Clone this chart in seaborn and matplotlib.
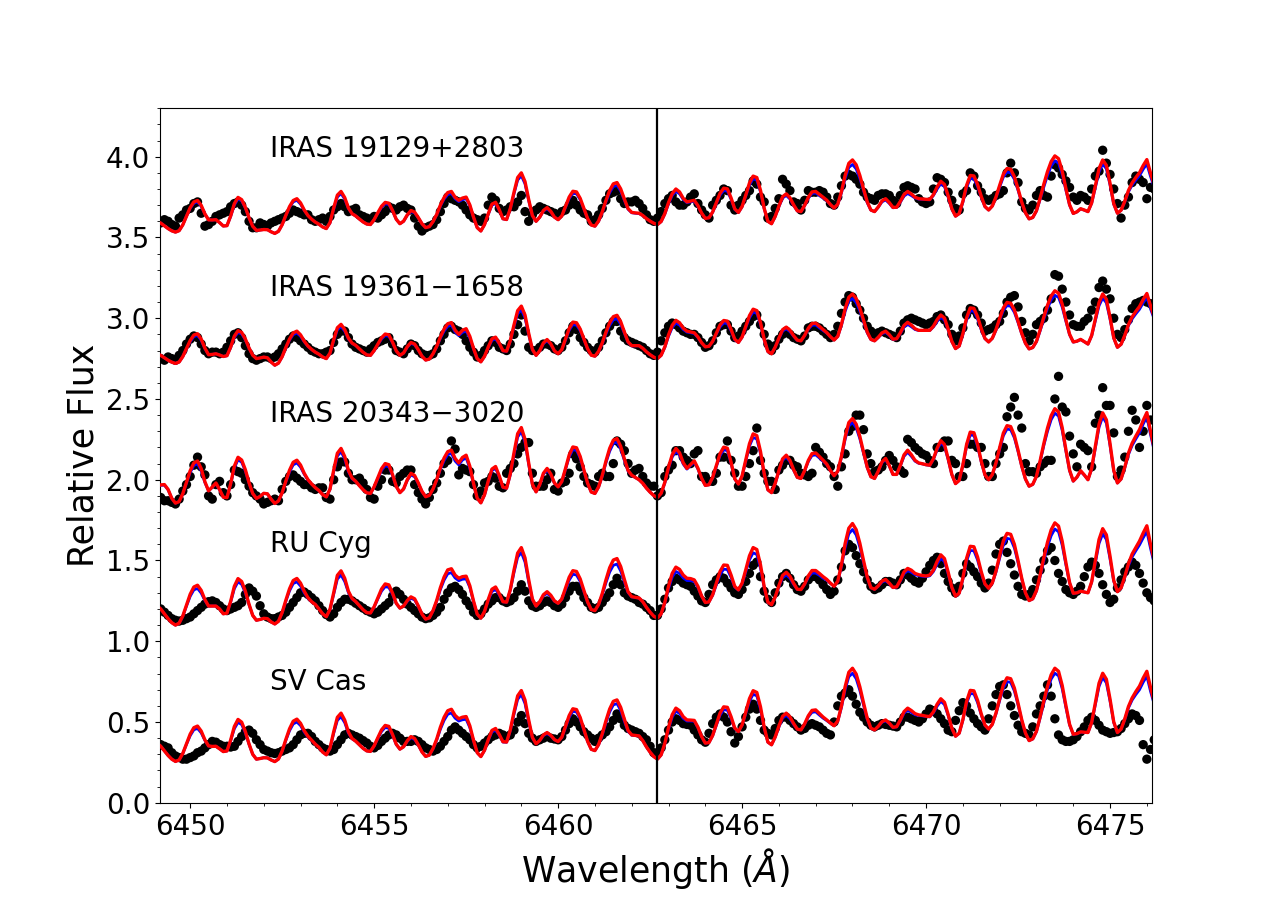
"""
Observed vs synthetic spectra near 6462 A for five stars
"""

import numpy as np
import pandas as pd
import matplotlib
matplotlib.use("Agg")
import matplotlib.pyplot as plt
from matplotlib.ticker import MultipleLocator, AutoMinorLocator
import seaborn as sns

stars = ["IRAS 19129+2803", "IRAS 19361\u22121658", "IRAS 20343\u22123020", "RU Cyg", "SV Cas"]
label_y = [4.0, 3.14, 2.36, 1.55, 0.70]
line_center = 6462.68

# common wavelength sampling, 0.1 A from 6449.1 to 6476.2
wave = np.round(np.arange(6449.1, 6476.25, 0.1), 1)

# red synthetic spectra (one row per Angstrom)
red_19129 = [
    3.60, 3.589, 3.572, 3.555, 3.541, 3.533, 3.542, 3.578, 3.632, 3.685,
    3.72, 3.729, 3.699, 3.646, 3.609, 3.608, 3.61, 3.592, 3.571, 3.573,
    3.633, 3.709, 3.748, 3.734, 3.686, 3.622, 3.569, 3.544, 3.546, 3.549,
    3.548, 3.535, 3.525, 3.538, 3.579, 3.637, 3.691, 3.729, 3.74, 3.714,
    3.67, 3.636, 3.613, 3.595, 3.582, 3.565, 3.555, 3.592, 3.682, 3.762,
    3.785, 3.747, 3.683, 3.647, 3.633, 3.614, 3.596, 3.583, 3.58, 3.611,
    3.653, 3.693, 3.717, 3.712, 3.667, 3.613, 3.585, 3.601, 3.64, 3.667,
    3.657, 3.623, 3.585, 3.561, 3.567, 3.598, 3.643, 3.70, 3.747, 3.778,
    3.785, 3.749, 3.73, 3.744, 3.75, 3.702, 3.626, 3.561, 3.54, 3.58,
    3.646, 3.706, 3.718, 3.672, 3.616, 3.611, 3.679, 3.779, 3.871, 3.90,
    3.846, 3.735, 3.636, 3.60, 3.626, 3.667, 3.685, 3.662, 3.626, 3.61,
    3.633, 3.691, 3.75, 3.786, 3.782, 3.742, 3.68, 3.618, 3.577, 3.57,
    3.602, 3.659, 3.729, 3.791, 3.832, 3.84, 3.801, 3.738, 3.679, 3.655,
    3.652, 3.65, 3.636, 3.617, 3.601, 3.588, 3.58, 3.599, 3.648, 3.716,
    3.771, 3.80, 3.782, 3.742, 3.72, 3.725, 3.73, 3.697, 3.651, 3.618,
    3.622, 3.658, 3.716, 3.773, 3.805, 3.801, 3.745, 3.677, 3.655, 3.692,
    3.763, 3.837, 3.88, 3.871, 3.792, 3.681, 3.60, 3.585, 3.631, 3.694,
    3.752, 3.77, 3.746, 3.702, 3.665, 3.66, 3.699, 3.749, 3.782, 3.785,
    3.767, 3.749, 3.731, 3.704, 3.682, 3.706, 3.784, 3.884, 3.959, 3.98,
    3.95, 3.884, 3.801, 3.721, 3.67, 3.66, 3.689, 3.726, 3.74, 3.716,
    3.686, 3.687, 3.723, 3.766, 3.785, 3.769, 3.749, 3.74, 3.738, 3.736,
    3.735, 3.765, 3.813, 3.848, 3.828, 3.758, 3.678, 3.632, 3.648, 3.724,
    3.822, 3.884, 3.881, 3.828, 3.754, 3.692, 3.67, 3.695, 3.751, 3.823,
    3.892, 3.927, 3.922, 3.876, 3.801, 3.719, 3.653, 3.615, 3.624, 3.666,
    3.744, 3.83, 3.908, 3.97, 4.005, 3.988, 3.911, 3.803, 3.703, 3.649,
    3.659, 3.678, 3.67, 3.66, 3.714, 3.82, 3.926, 3.98, 3.947, 3.835,
    3.709, 3.65, 3.669, 3.724, 3.791, 3.838, 3.871, 3.901, 3.945, 3.982,
    3.899, 3.824,
]
red_19361 = [
    2.78, 2.77, 2.755, 2.74, 2.728, 2.72, 2.729, 2.763, 2.813, 2.862,
    2.896, 2.904, 2.871, 2.815, 2.774, 2.776, 2.78, 2.772, 2.763, 2.768,
    2.821, 2.889, 2.923, 2.912, 2.871, 2.816, 2.771, 2.75, 2.754, 2.759,
    2.755, 2.729, 2.709, 2.722, 2.762, 2.819, 2.871, 2.909, 2.92, 2.897,
    2.858, 2.828, 2.807, 2.79, 2.777, 2.76, 2.75, 2.784, 2.867, 2.941,
    2.962, 2.93, 2.877, 2.846, 2.832, 2.81, 2.789, 2.773, 2.77, 2.80,
    2.84, 2.879, 2.902, 2.897, 2.852, 2.798, 2.77, 2.785, 2.824, 2.85,
    2.84, 2.805, 2.765, 2.741, 2.747, 2.78, 2.826, 2.884, 2.933, 2.966,
    2.973, 2.926, 2.90, 2.925, 2.935, 2.888, 2.814, 2.75, 2.73, 2.764,
    2.821, 2.872, 2.883, 2.845, 2.799, 2.796, 2.861, 2.958, 3.047, 3.075,
    3.02, 2.907, 2.807, 2.77, 2.799, 2.847, 2.868, 2.842, 2.798, 2.78,
    2.806, 2.87, 2.936, 2.976, 2.972, 2.933, 2.872, 2.812, 2.771, 2.765,
    2.795, 2.848, 2.914, 2.972, 3.01, 3.018, 2.979, 2.915, 2.854, 2.83,
    2.83, 2.83, 2.814, 2.792, 2.774, 2.759, 2.75, 2.771, 2.823, 2.897,
    2.956, 2.987, 2.972, 2.939, 2.92, 2.915, 2.91, 2.884, 2.848, 2.823,
    2.826, 2.857, 2.908, 2.958, 2.986, 2.982, 2.931, 2.87, 2.85, 2.884,
    2.949, 3.016, 3.056, 3.047, 2.973, 2.87, 2.794, 2.78, 2.821, 2.877,
    2.929, 2.945, 2.926, 2.892, 2.864, 2.86, 2.894, 2.938, 2.967, 2.97,
    2.95, 2.93, 2.911, 2.886, 2.865, 2.888, 2.962, 3.058, 3.13, 3.15,
    3.122, 3.063, 2.988, 2.915, 2.869, 2.86, 2.882, 2.909, 2.92, 2.898,
    2.87, 2.873, 2.91, 2.955, 2.975, 2.957, 2.935, 2.925, 2.925, 2.925,
    2.925, 2.951, 2.991, 3.02, 3.001, 2.933, 2.857, 2.812, 2.828, 2.904,
    3.002, 3.064, 3.061, 3.009, 2.935, 2.875, 2.853, 2.876, 2.93, 2.999,
    3.064, 3.098, 3.093, 3.051, 2.981, 2.906, 2.845, 2.81, 2.819, 2.857,
    2.929, 3.008, 3.08, 3.138, 3.17, 3.155, 3.087, 2.991, 2.901, 2.853,
    2.858, 2.869, 2.855, 2.84, 2.893, 2.995, 3.097, 3.15, 3.117, 3.005,
    2.879, 2.82, 2.839, 2.894, 2.961, 3.008, 3.042, 3.072, 3.116, 3.153,
    3.077, 3.008,
]
red_20343 = [
    1.96, 1.968, 1.97, 1.94, 1.885, 1.855, 1.865, 1.914, 1.985, 2.056,
    2.104, 2.116, 2.069, 1.988, 1.931, 1.955, 1.98, 1.939, 1.892, 1.889,
    1.975, 2.084, 2.139, 2.122, 2.062, 1.982, 1.915, 1.884, 1.897, 1.916,
    1.913, 1.88, 1.853, 1.869, 1.92, 1.992, 2.059, 2.108, 2.121, 2.091,
    2.04, 2.001, 1.974, 1.951, 1.933, 1.908, 1.894, 1.942, 2.059, 2.164,
    2.194, 2.144, 2.058, 2.01, 1.99, 1.963, 1.938, 1.919, 1.915, 1.957,
    2.013, 2.068, 2.10, 2.093, 2.032, 1.959, 1.92, 1.943, 2.0, 2.04,
    2.026, 1.98, 1.928, 1.895, 1.903, 1.943, 2.001, 2.073, 2.134, 2.174,
    2.183, 2.132, 2.104, 2.138, 2.152, 2.084, 1.978, 1.886, 1.857, 1.907,
    1.991, 2.066, 2.082, 2.024, 1.954, 1.948, 2.036, 2.166, 2.285, 2.323,
    2.251, 2.104, 1.973, 1.925, 1.969, 2.04, 2.07, 2.036, 1.98, 1.956,
    1.989, 2.069, 2.153, 2.203, 2.198, 2.144, 2.061, 1.979, 1.924, 1.915,
    1.956, 2.027, 2.116, 2.194, 2.245, 2.255, 2.207, 2.13, 2.058, 2.028,
    2.014, 2.0, 1.978, 1.948, 1.923, 1.902, 1.89, 1.916, 1.984, 2.078,
    2.154, 2.194, 2.167, 2.105, 2.07, 2.094, 2.117, 2.071, 2.009, 1.965,
    1.969, 2.015, 2.089, 2.161, 2.202, 2.195, 2.109, 2.006, 1.973, 2.024,
    2.122, 2.223, 2.284, 2.273, 2.175, 2.038, 1.938, 1.92, 1.978, 2.057,
    2.129, 2.152, 2.12, 2.063, 2.015, 2.008, 2.057, 2.12, 2.162, 2.166,
    2.144, 2.121, 2.097, 2.057, 2.025, 2.053, 2.145, 2.265, 2.354, 2.379,
    2.344, 2.268, 2.171, 2.078, 2.019, 2.008, 2.053, 2.11, 2.132, 2.088,
    2.033, 2.033, 2.088, 2.154, 2.183, 2.155, 2.12, 2.104, 2.099, 2.093,
    2.09, 2.13, 2.195, 2.242, 2.218, 2.131, 2.033, 1.976, 1.996, 2.092,
    2.217, 2.295, 2.291, 2.218, 2.115, 2.03, 2.0, 2.032, 2.105, 2.199,
    2.289, 2.335, 2.329, 2.274, 2.183, 2.085, 2.005, 1.96, 1.972, 2.022,
    2.118, 2.224, 2.32, 2.397, 2.44, 2.419, 2.322, 2.186, 2.059, 1.992,
    2.016, 2.056, 2.03, 2.0, 2.07, 2.207, 2.344, 2.414, 2.371, 2.223,
    2.058, 1.98, 2.005, 2.077, 2.165, 2.226, 2.27, 2.31, 2.367, 2.416,
    2.30, 2.196,
]
red_rucyg = [
    1.22, 1.20, 1.17, 1.14, 1.115, 1.10, 1.112, 1.157, 1.224, 1.291,
    1.336, 1.347, 1.315, 1.258, 1.218, 1.218, 1.218, 1.20, 1.17, 1.174,
    1.247, 1.34, 1.388, 1.37, 1.31, 1.229, 1.16, 1.13, 1.135, 1.142,
    1.14, 1.12, 1.107, 1.124, 1.178, 1.254, 1.325, 1.376, 1.389, 1.36,
    1.31, 1.27, 1.245, 1.228, 1.20, 1.17, 1.152, 1.198, 1.30, 1.408,
    1.436, 1.39, 1.31, 1.265, 1.245, 1.22, 1.195, 1.177, 1.175, 1.214,
    1.269, 1.323, 1.355, 1.349, 1.298, 1.236, 1.205, 1.218, 1.252, 1.275,
    1.263, 1.219, 1.168, 1.137, 1.145, 1.19, 1.253, 1.332, 1.397, 1.442,
    1.449, 1.41, 1.39, 1.40, 1.403, 1.344, 1.25, 1.168, 1.143, 1.185,
    1.258, 1.322, 1.336, 1.295, 1.245, 1.242, 1.32, 1.44, 1.546, 1.58,
    1.516, 1.382, 1.262, 1.218, 1.245, 1.288, 1.307, 1.285, 1.25, 1.235,
    1.262, 1.328, 1.396, 1.437, 1.432, 1.386, 1.315, 1.244, 1.196, 1.19,
    1.228, 1.296, 1.38, 1.455, 1.503, 1.512, 1.463, 1.383, 1.307, 1.276,
    1.272, 1.268, 1.245, 1.21, 1.18, 1.155, 1.143, 1.17, 1.241, 1.34,
    1.42, 1.459, 1.445, 1.41, 1.39, 1.388, 1.38, 1.34, 1.28, 1.24,
    1.244, 1.288, 1.361, 1.432, 1.472, 1.47, 1.41, 1.34, 1.318, 1.36,
    1.443, 1.529, 1.58, 1.568, 1.473, 1.339, 1.242, 1.226, 1.275, 1.344,
    1.407, 1.427, 1.403, 1.359, 1.322, 1.32, 1.355, 1.405, 1.438, 1.438,
    1.42, 1.40, 1.383, 1.36, 1.34, 1.372, 1.473, 1.605, 1.70, 1.729,
    1.691, 1.607, 1.50, 1.398, 1.332, 1.322, 1.343, 1.372, 1.383, 1.36,
    1.333, 1.337, 1.378, 1.429, 1.451, 1.44, 1.42, 1.412, 1.407, 1.404,
    1.41, 1.44, 1.495, 1.535, 1.512, 1.428, 1.334, 1.279, 1.298, 1.391,
    1.513, 1.588, 1.585, 1.521, 1.43, 1.355, 1.328, 1.361, 1.435, 1.531,
    1.622, 1.668, 1.662, 1.60, 1.499, 1.39, 1.30, 1.252, 1.263, 1.314,
    1.41, 1.517, 1.613, 1.69, 1.733, 1.713, 1.619, 1.487, 1.364, 1.297,
    1.30, 1.31, 1.305, 1.30, 1.368, 1.499, 1.63, 1.697, 1.659, 1.526,
    1.377, 1.307, 1.33, 1.40, 1.48, 1.54, 1.58, 1.62, 1.67, 1.715,
    1.60, 1.50,
]
red_svcas = [
    0.37, 0.35, 0.322, 0.293, 0.27, 0.256, 0.265, 0.306, 0.366, 0.425,
    0.465, 0.475, 0.444, 0.39, 0.352, 0.349, 0.35, 0.334, 0.317, 0.321,
    0.388, 0.472, 0.516, 0.499, 0.441, 0.364, 0.30, 0.27, 0.274, 0.279,
    0.278, 0.265, 0.255, 0.271, 0.321, 0.392, 0.458, 0.505, 0.518, 0.492,
    0.446, 0.412, 0.388, 0.363, 0.343, 0.314, 0.297, 0.338, 0.439, 0.529,
    0.555, 0.512, 0.439, 0.398, 0.381, 0.359, 0.337, 0.321, 0.318, 0.353,
    0.403, 0.451, 0.479, 0.473, 0.423, 0.363, 0.332, 0.347, 0.384, 0.41,
    0.398, 0.359, 0.315, 0.287, 0.295, 0.336, 0.394, 0.468, 0.529, 0.57,
    0.579, 0.541, 0.52, 0.53, 0.534, 0.477, 0.388, 0.311, 0.286, 0.325,
    0.39, 0.448, 0.46, 0.423, 0.378, 0.376, 0.451, 0.561, 0.662, 0.695,
    0.636, 0.513, 0.405, 0.365, 0.386, 0.42, 0.435, 0.418, 0.391, 0.379,
    0.406, 0.472, 0.54, 0.582, 0.577, 0.528, 0.454, 0.381, 0.331, 0.323,
    0.361, 0.427, 0.508, 0.58, 0.628, 0.637, 0.591, 0.518, 0.448, 0.42,
    0.417, 0.414, 0.385, 0.346, 0.313, 0.286, 0.27, 0.297, 0.368, 0.466,
    0.545, 0.586, 0.57, 0.533, 0.513, 0.512, 0.51, 0.468, 0.41, 0.369,
    0.373, 0.417, 0.487, 0.555, 0.594, 0.591, 0.533, 0.463, 0.441, 0.482,
    0.562, 0.645, 0.694, 0.683, 0.594, 0.468, 0.376, 0.359, 0.408, 0.475,
    0.535, 0.555, 0.532, 0.491, 0.456, 0.451, 0.489, 0.539, 0.572, 0.575,
    0.553, 0.531, 0.513, 0.494, 0.477, 0.507, 0.599, 0.719, 0.808, 0.833,
    0.797, 0.718, 0.619, 0.524, 0.462, 0.451, 0.473, 0.502, 0.513, 0.493,
    0.467, 0.471, 0.513, 0.564, 0.586, 0.571, 0.552, 0.544, 0.541, 0.536,
    0.534, 0.563, 0.61, 0.644, 0.622, 0.547, 0.462, 0.412, 0.431, 0.515,
    0.627, 0.696, 0.693, 0.634, 0.55, 0.481, 0.456, 0.486, 0.556, 0.645,
    0.73, 0.774, 0.768, 0.71, 0.616, 0.514, 0.432, 0.385, 0.396, 0.443,
    0.533, 0.631, 0.721, 0.793, 0.833, 0.814, 0.726, 0.602, 0.486, 0.424,
    0.428, 0.439, 0.437, 0.435, 0.497, 0.619, 0.74, 0.802, 0.765, 0.641,
    0.501, 0.435, 0.456, 0.519, 0.596, 0.649, 0.688, 0.722, 0.772, 0.814,
    0.714, 0.625,
]

# blue synthetic spectra (second model, mostly hidden under the red one)
blue_19129 = [
    3.60, 3.589, 3.572, 3.555, 3.541, 3.533, 3.542, 3.578, 3.632, 3.68,
    3.712, 3.72, 3.692, 3.646, 3.609, 3.608, 3.61, 3.592, 3.571, 3.573,
    3.63, 3.70, 3.738, 3.726, 3.682, 3.622, 3.569, 3.544, 3.546, 3.549,
    3.548, 3.535, 3.525, 3.538, 3.579, 3.635, 3.686, 3.72, 3.73, 3.706,
    3.667, 3.636, 3.613, 3.595, 3.582, 3.565, 3.555, 3.59, 3.675, 3.75,
    3.772, 3.737, 3.68, 3.647, 3.633, 3.614, 3.596, 3.583, 3.58, 3.61,
    3.65, 3.686, 3.708, 3.704, 3.663, 3.613, 3.585, 3.60, 3.637, 3.66,
    3.652, 3.621, 3.585, 3.561, 3.567, 3.597, 3.64, 3.694, 3.737, 3.765,
    3.772, 3.74, 3.722, 3.734, 3.74, 3.696, 3.624, 3.561, 3.54, 3.579,
    3.642, 3.699, 3.71, 3.668, 3.615, 3.611, 3.676, 3.77, 3.855, 3.882,
    3.832, 3.728, 3.634, 3.60, 3.625, 3.663, 3.678, 3.658, 3.625, 3.61,
    3.632, 3.686, 3.74, 3.773, 3.77, 3.734, 3.676, 3.617, 3.577, 3.57,
    3.60, 3.654, 3.72, 3.777, 3.815, 3.822, 3.787, 3.73, 3.675, 3.653,
    3.65, 3.648, 3.635, 3.617, 3.601, 3.588, 3.58, 3.598, 3.645, 3.708,
    3.759, 3.785, 3.77, 3.735, 3.716, 3.72, 3.724, 3.693, 3.65, 3.618,
    3.622, 3.656, 3.71, 3.762, 3.79, 3.787, 3.737, 3.674, 3.654, 3.69,
    3.756, 3.824, 3.863, 3.855, 3.782, 3.678, 3.60, 3.585, 3.63, 3.69,
    3.744, 3.76, 3.738, 3.698, 3.664, 3.66, 3.697, 3.743, 3.772, 3.775,
    3.759, 3.744, 3.728, 3.703, 3.682, 3.704, 3.776, 3.865, 3.933, 3.952,
    3.924, 3.865, 3.79, 3.716, 3.669, 3.66, 3.687, 3.72, 3.732, 3.711,
    3.684, 3.686, 3.718, 3.756, 3.772, 3.759, 3.744, 3.737, 3.736, 3.734,
    3.733, 3.76, 3.80, 3.832, 3.815, 3.75, 3.675, 3.632, 3.647, 3.718,
    3.808, 3.865, 3.863, 3.815, 3.748, 3.69, 3.67, 3.694, 3.746, 3.812,
    3.874, 3.905, 3.90, 3.86, 3.792, 3.715, 3.652, 3.615, 3.623, 3.663,
    3.736, 3.812, 3.884, 3.942, 3.975, 3.96, 3.89, 3.793, 3.70, 3.648,
    3.658, 3.677, 3.669, 3.66, 3.712, 3.81, 3.905, 3.955, 3.925, 3.825,
    3.706, 3.65, 3.668, 3.72, 3.782, 3.825, 3.855, 3.882, 3.922, 3.955,
    3.878, 3.81,
]
blue_19361 = [
    2.78, 2.77, 2.755, 2.74, 2.728, 2.72, 2.729, 2.762, 2.81, 2.855,
    2.886, 2.893, 2.863, 2.812, 2.774, 2.776, 2.78, 2.772, 2.763, 2.768,
    2.818, 2.88, 2.912, 2.902, 2.866, 2.815, 2.771, 2.75, 2.754, 2.759,
    2.755, 2.729, 2.709, 2.722, 2.761, 2.816, 2.864, 2.898, 2.908, 2.888,
    2.854, 2.826, 2.806, 2.79, 2.777, 2.76, 2.75, 2.782, 2.86, 2.928,
    2.948, 2.92, 2.872, 2.844, 2.831, 2.81, 2.789, 2.773, 2.77, 2.798,
    2.836, 2.871, 2.892, 2.888, 2.848, 2.797, 2.77, 2.784, 2.82, 2.844,
    2.835, 2.803, 2.765, 2.741, 2.747, 2.779, 2.822, 2.876, 2.92, 2.95,
    2.956, 2.914, 2.892, 2.912, 2.92, 2.878, 2.81, 2.75, 2.73, 2.763,
    2.817, 2.862, 2.872, 2.84, 2.798, 2.795, 2.857, 2.947, 3.027, 3.052,
    3.002, 2.898, 2.805, 2.77, 2.798, 2.842, 2.86, 2.837, 2.797, 2.78,
    2.805, 2.864, 2.925, 2.96, 2.957, 2.923, 2.868, 2.81, 2.771, 2.765,
    2.793, 2.842, 2.903, 2.955, 2.99, 2.997, 2.963, 2.907, 2.851, 2.828,
    2.829, 2.829, 2.814, 2.792, 2.774, 2.759, 2.75, 2.77, 2.82, 2.888,
    2.942, 2.97, 2.957, 2.93, 2.914, 2.91, 2.905, 2.88, 2.846, 2.823,
    2.826, 2.855, 2.902, 2.946, 2.97, 2.967, 2.922, 2.866, 2.85, 2.882,
    2.942, 3.002, 3.038, 3.03, 2.962, 2.866, 2.793, 2.78, 2.82, 2.873,
    2.92, 2.934, 2.917, 2.888, 2.863, 2.86, 2.892, 2.932, 2.956, 2.958,
    2.94, 2.924, 2.908, 2.885, 2.865, 2.887, 2.956, 3.042, 3.106, 3.122,
    3.097, 3.045, 2.978, 2.91, 2.868, 2.86, 2.88, 2.904, 2.912, 2.894,
    2.868, 2.872, 2.905, 2.945, 2.962, 2.947, 2.93, 2.924, 2.924, 2.924,
    2.924, 2.946, 2.98, 3.005, 2.988, 2.927, 2.855, 2.812, 2.827, 2.898,
    2.988, 3.045, 3.043, 2.995, 2.928, 2.873, 2.853, 2.875, 2.926, 2.99,
    3.048, 3.078, 3.074, 3.036, 2.973, 2.903, 2.844, 2.81, 2.818, 2.854,
    2.922, 2.994, 3.06, 3.113, 3.142, 3.129, 3.068, 2.981, 2.898, 2.852,
    2.857, 2.868, 2.854, 2.84, 2.891, 2.985, 3.077, 3.125, 3.095, 2.995,
    2.876, 2.82, 2.838, 2.891, 2.954, 2.996, 3.027, 3.055, 3.095, 3.128,
    3.058, 2.995,
]
blue_20343 = [
    1.96, 1.966, 1.966, 1.938, 1.885, 1.855, 1.865, 1.912, 1.98, 2.045,
    2.088, 2.098, 2.055, 1.983, 1.931, 1.953, 1.976, 1.937, 1.892, 1.889,
    1.972, 2.072, 2.124, 2.108, 2.054, 1.979, 1.914, 1.884, 1.897, 1.915,
    1.912, 1.88, 1.853, 1.869, 1.918, 1.986, 2.048, 2.092, 2.104, 2.078,
    2.034, 1.998, 1.973, 1.951, 1.933, 1.908, 1.894, 1.94, 2.05, 2.146,
    2.174, 2.128, 2.05, 2.006, 1.989, 1.963, 1.938, 1.919, 1.915, 1.955,
    2.007, 2.057, 2.086, 2.08, 2.026, 1.958, 1.92, 1.942, 1.996, 2.03,
    2.018, 1.977, 1.927, 1.895, 1.903, 1.942, 1.997, 2.064, 2.118, 2.155,
    2.163, 2.116, 2.092, 2.122, 2.135, 2.072, 1.974, 1.885, 1.857, 1.905,
    1.986, 2.056, 2.07, 2.018, 1.952, 1.947, 2.03, 2.152, 2.264, 2.298,
    2.232, 2.096, 1.971, 1.925, 1.968, 2.034, 2.06, 2.03, 1.978, 1.956,
    1.988, 2.064, 2.14, 2.186, 2.182, 2.134, 2.057, 1.978, 1.924, 1.915,
    1.955, 2.022, 2.105, 2.176, 2.224, 2.233, 2.19, 2.12, 2.054, 2.026,
    2.013, 2.0, 1.978, 1.948, 1.923, 1.902, 1.89, 1.915, 1.98, 2.07,
    2.14, 2.176, 2.152, 2.097, 2.066, 2.088, 2.108, 2.066, 2.007, 1.965,
    1.969, 2.013, 2.082, 2.148, 2.185, 2.18, 2.102, 2.004, 1.973, 2.022,
    2.115, 2.208, 2.262, 2.252, 2.162, 2.034, 1.937, 1.92, 1.976, 2.052,
    2.12, 2.14, 2.111, 2.059, 2.014, 2.008, 2.055, 2.113, 2.15, 2.154,
    2.135, 2.115, 2.094, 2.056, 2.025, 2.051, 2.138, 2.25, 2.332, 2.354,
    2.322, 2.254, 2.164, 2.075, 2.018, 2.008, 2.052, 2.105, 2.125, 2.085,
    2.032, 2.033, 2.085, 2.145, 2.17, 2.145, 2.115, 2.102, 2.098, 2.092,
    2.089, 2.126, 2.185, 2.228, 2.206, 2.125, 2.031, 1.976, 1.995, 2.088,
    2.206, 2.277, 2.274, 2.207, 2.11, 2.029, 2.0, 2.031, 2.1, 2.188,
    2.272, 2.314, 2.309, 2.259, 2.175, 2.082, 2.004, 1.96, 1.971, 2.02,
    2.112, 2.212, 2.3, 2.372, 2.412, 2.394, 2.305, 2.178, 2.056, 1.991,
    2.015, 2.052, 2.028, 2.0, 2.067, 2.196, 2.324, 2.39, 2.35, 2.212,
    2.055, 1.98, 2.004, 2.073, 2.156, 2.212, 2.252, 2.29, 2.344, 2.39,
    2.28, 2.18,
]
blue_rucyg = [
    1.22, 1.20, 1.17, 1.14, 1.115, 1.10, 1.112, 1.155, 1.218, 1.278,
    1.318, 1.327, 1.298, 1.252, 1.217, 1.218, 1.218, 1.20, 1.17, 1.174,
    1.242, 1.325, 1.368, 1.352, 1.30, 1.226, 1.16, 1.13, 1.135, 1.142,
    1.14, 1.12, 1.107, 1.124, 1.176, 1.247, 1.312, 1.357, 1.368, 1.342,
    1.30, 1.266, 1.244, 1.228, 1.20, 1.17, 1.152, 1.196, 1.29, 1.385,
    1.41, 1.37, 1.302, 1.262, 1.244, 1.22, 1.195, 1.177, 1.175, 1.212,
    1.262, 1.31, 1.338, 1.333, 1.29, 1.234, 1.205, 1.217, 1.247, 1.266,
    1.256, 1.216, 1.167, 1.137, 1.145, 1.188, 1.248, 1.32, 1.378, 1.418,
    1.425, 1.392, 1.375, 1.384, 1.386, 1.334, 1.246, 1.167, 1.143, 1.184,
    1.252, 1.308, 1.32, 1.288, 1.244, 1.242, 1.315, 1.425, 1.52, 1.55,
    1.49, 1.368, 1.258, 1.218, 1.244, 1.282, 1.296, 1.278, 1.248, 1.235,
    1.26, 1.318, 1.378, 1.415, 1.41, 1.37, 1.308, 1.242, 1.196, 1.19,
    1.226, 1.288, 1.362, 1.428, 1.47, 1.478, 1.435, 1.368, 1.302, 1.274,
    1.271, 1.267, 1.245, 1.21, 1.18, 1.155, 1.143, 1.169, 1.236, 1.325,
    1.397, 1.432, 1.42, 1.392, 1.376, 1.375, 1.37, 1.333, 1.278, 1.24,
    1.244, 1.285, 1.35, 1.412, 1.446, 1.444, 1.395, 1.335, 1.317, 1.355,
    1.43, 1.504, 1.548, 1.537, 1.452, 1.333, 1.241, 1.226, 1.273, 1.337,
    1.393, 1.41, 1.39, 1.352, 1.321, 1.32, 1.352, 1.395, 1.422, 1.422,
    1.408, 1.39, 1.378, 1.358, 1.34, 1.37, 1.463, 1.58, 1.665, 1.692,
    1.658, 1.583, 1.487, 1.394, 1.331, 1.322, 1.341, 1.366, 1.375, 1.356,
    1.332, 1.336, 1.373, 1.418, 1.436, 1.427, 1.412, 1.406, 1.402, 1.40,
    1.405, 1.432, 1.478, 1.513, 1.493, 1.418, 1.331, 1.279, 1.297, 1.384,
    1.495, 1.562, 1.56, 1.503, 1.42, 1.352, 1.328, 1.359, 1.428, 1.515,
    1.595, 1.637, 1.632, 1.578, 1.487, 1.386, 1.299, 1.252, 1.262, 1.311,
    1.40, 1.498, 1.585, 1.654, 1.695, 1.678, 1.594, 1.474, 1.36, 1.296,
    1.30, 1.31, 1.305, 1.30, 1.365, 1.486, 1.605, 1.665, 1.63, 1.51,
    1.372, 1.307, 1.328, 1.395, 1.468, 1.522, 1.56, 1.596, 1.64, 1.68,
    1.575, 1.48,
]
blue_svcas = [
    0.37, 0.35, 0.322, 0.293, 0.27, 0.256, 0.265, 0.305, 0.362, 0.415,
    0.452, 0.46, 0.433, 0.386, 0.351, 0.349, 0.35, 0.334, 0.317, 0.321,
    0.384, 0.458, 0.498, 0.484, 0.433, 0.362, 0.30, 0.27, 0.274, 0.279,
    0.278, 0.265, 0.255, 0.271, 0.319, 0.386, 0.446, 0.488, 0.50, 0.478,
    0.438, 0.408, 0.386, 0.363, 0.343, 0.314, 0.297, 0.336, 0.43, 0.51,
    0.533, 0.496, 0.432, 0.396, 0.381, 0.359, 0.337, 0.321, 0.318, 0.352,
    0.398, 0.441, 0.466, 0.461, 0.417, 0.361, 0.332, 0.346, 0.38, 0.402,
    0.392, 0.357, 0.315, 0.287, 0.295, 0.334, 0.388, 0.455, 0.51, 0.548,
    0.556, 0.524, 0.506, 0.514, 0.517, 0.466, 0.384, 0.31, 0.286, 0.324,
    0.385, 0.438, 0.449, 0.418, 0.376, 0.375, 0.446, 0.548, 0.64, 0.67,
    0.614, 0.503, 0.402, 0.365, 0.385, 0.416, 0.428, 0.414, 0.39, 0.379,
    0.404, 0.465, 0.528, 0.566, 0.562, 0.518, 0.45, 0.38, 0.331, 0.323,
    0.359, 0.42, 0.496, 0.562, 0.606, 0.614, 0.572, 0.505, 0.443, 0.418,
    0.416, 0.413, 0.385, 0.346, 0.313, 0.286, 0.27, 0.296, 0.364, 0.456,
    0.53, 0.567, 0.553, 0.522, 0.506, 0.506, 0.505, 0.465, 0.409, 0.369,
    0.373, 0.415, 0.48, 0.542, 0.576, 0.573, 0.522, 0.459, 0.441, 0.48,
    0.553, 0.628, 0.672, 0.662, 0.58, 0.462, 0.375, 0.359, 0.406, 0.468,
    0.524, 0.541, 0.52, 0.485, 0.455, 0.451, 0.487, 0.532, 0.56, 0.563,
    0.543, 0.524, 0.509, 0.492, 0.477, 0.505, 0.59, 0.70, 0.78, 0.802,
    0.768, 0.696, 0.605, 0.518, 0.461, 0.451, 0.472, 0.498, 0.507, 0.49,
    0.466, 0.47, 0.508, 0.554, 0.573, 0.56, 0.545, 0.54, 0.538, 0.534,
    0.532, 0.557, 0.598, 0.628, 0.608, 0.54, 0.46, 0.412, 0.43, 0.51,
    0.614, 0.676, 0.674, 0.62, 0.543, 0.479, 0.456, 0.485, 0.551, 0.633,
    0.71, 0.75, 0.745, 0.692, 0.606, 0.51, 0.431, 0.385, 0.395, 0.44,
    0.525, 0.616, 0.70, 0.766, 0.802, 0.786, 0.706, 0.591, 0.482, 0.423,
    0.427, 0.438, 0.436, 0.435, 0.494, 0.608, 0.72, 0.776, 0.742, 0.63,
    0.497, 0.435, 0.455, 0.515, 0.587, 0.636, 0.67, 0.70, 0.746, 0.784,
    0.69, 0.61,
]

# observed spectra
obs_19129 = [
    3.58, 3.59, 3.61, 3.60, 3.58, 3.57, 3.62, 3.64, 3.67, 3.68,
    3.71, 3.72, 3.65, 3.57, 3.58, 3.60, 3.63, 3.64, 3.65, 3.66,
    3.69, 3.71, 3.72, 3.70, 3.66, 3.60, 3.56, 3.56, 3.59, 3.58,
    3.57, 3.59, 3.60, 3.61, 3.62, 3.63, 3.65, 3.67, 3.66, 3.65,
    3.64, 3.64, 3.61, 3.60, 3.61, 3.62, 3.60, 3.63, 3.67, 3.69,
    3.71, 3.69, 3.66, 3.67, 3.68, 3.64, 3.63, 3.62, 3.61, 3.63,
    3.62, 3.64, 3.66, 3.69, 3.68, 3.67, 3.69, 3.70, 3.68, 3.67,
    3.62, 3.57, 3.54, 3.56, 3.57, 3.58, 3.61, 3.66, 3.71, 3.75,
    3.74, 3.73, 3.72, 3.70, 3.67, 3.64, 3.62, 3.61, 3.60, 3.62,
    3.70, 3.75, 3.73, 3.68, 3.66, 3.67, 3.69, 3.69, 3.72, 3.76,
    3.66, 3.60, 3.64, 3.67, 3.69, 3.68, 3.67, 3.66, 3.65, 3.64,
    3.66, 3.67, 3.70, 3.73, 3.70, 3.67, 3.65, 3.64, 3.60, 3.61,
    3.64, 3.68, 3.73, 3.77, 3.78, 3.79, 3.74, 3.71, 3.72, 3.72,
    3.73, 3.71, 3.68, 3.64, 3.61, 3.60, 3.62, 3.66, 3.71, 3.74,
    3.76, 3.72, 3.70, 3.70, 3.72, 3.75, 3.77, 3.71, 3.67, 3.64,
    3.62, 3.70, 3.73, 3.76, 3.80, 3.79, 3.70, 3.67, 3.70, 3.73,
    3.76, 3.79, 3.85, 3.83, 3.75, 3.72, 3.62, 3.63, 3.68, 3.74,
    3.86, 3.83, 3.79, 3.72, 3.71, 3.67, 3.73, 3.79, 3.78, 3.78,
    3.79, 3.78, 3.75, 3.71, 3.70, 3.75, 3.82, 3.88, 3.89, 3.88,
    3.86, 3.83, 3.78, 3.75, 3.74, 3.73, 3.76, 3.77, 3.77, 3.76,
    3.73, 3.71, 3.76, 3.81, 3.82, 3.81, 3.80, 3.74, 3.72, 3.71,
    3.72, 3.80, 3.87, 3.86, 3.84, 3.78, 3.73, 3.68, 3.67, 3.77,
    3.79, 3.90, 3.88, 3.82, 3.78, 3.74, 3.73, 3.74, 3.76, 3.77,
    3.79, 3.90, 3.96, 3.90, 3.84, 3.72, 3.68, 3.67, 3.70, 3.76,
    3.79, 3.76, 3.75, 3.88, 3.95, 3.93, 3.89, 3.85, 3.81, 3.75,
    3.73, 3.76, 3.75, 3.73, 3.80, 3.88, 3.91, 4.04, 3.96, 3.89,
    3.80, 3.71, 3.62, 3.70, 3.75, 3.84, 3.88, 3.86, 3.84, 3.74,
    3.81, 3.80,
]
obs_19361 = [
    2.76, 2.75, 2.74, 2.76, 2.75, 2.74, 2.77, 2.80, 2.84, 2.87,
    2.89, 2.88, 2.84, 2.80, 2.78, 2.79, 2.79, 2.78, 2.79, 2.82,
    2.86, 2.90, 2.91, 2.88, 2.83, 2.78, 2.75, 2.74, 2.75, 2.76,
    2.76, 2.75, 2.76, 2.78, 2.81, 2.84, 2.87, 2.89, 2.88, 2.86,
    2.84, 2.82, 2.80, 2.79, 2.78, 2.78, 2.79, 2.80, 2.85, 2.90,
    2.92, 2.92, 2.88, 2.84, 2.82, 2.81, 2.80, 2.79, 2.81, 2.83,
    2.85, 2.86, 2.87, 2.88, 2.84, 2.80, 2.79, 2.78, 2.81, 2.84,
    2.83, 2.80, 2.78, 2.77, 2.77, 2.78, 2.81, 2.86, 2.90, 2.94,
    2.95, 2.93, 2.92, 2.90, 2.86, 2.82, 2.79, 2.76, 2.77, 2.80,
    2.83, 2.86, 2.85, 2.82, 2.81, 2.80, 2.84, 2.90, 2.96, 3.02,
    2.92, 2.82, 2.80, 2.80, 2.82, 2.84, 2.84, 2.83, 2.81, 2.80,
    2.82, 2.86, 2.91, 2.95, 2.93, 2.88, 2.85, 2.82, 2.80, 2.79,
    2.82, 2.86, 2.91, 2.95, 2.98, 2.98, 2.92, 2.88, 2.86, 2.85,
    2.84, 2.83, 2.82, 2.80, 2.78, 2.77, 2.79, 2.86, 2.91, 2.95,
    2.97, 2.96, 2.94, 2.92, 2.91, 2.90, 2.90, 2.88, 2.85, 2.82,
    2.83, 2.86, 2.91, 2.95, 2.96, 2.96, 2.92, 2.88, 2.89, 2.92,
    2.95, 2.98, 3.01, 3.02, 2.96, 2.90, 2.84, 2.80, 2.83, 2.87,
    2.90, 2.92, 2.90, 2.88, 2.87, 2.86, 2.89, 2.94, 2.95, 2.95,
    2.94, 2.92, 2.90, 2.88, 2.90, 2.95, 3.03, 3.10, 3.14, 3.13,
    3.09, 3.05, 3.00, 2.95, 2.92, 2.90, 2.91, 2.92, 2.91, 2.90,
    2.89, 2.88, 2.92, 2.97, 2.99, 3.00, 2.99, 2.98, 2.97, 2.96,
    2.97, 2.98, 3.01, 3.02, 2.99, 2.96, 2.90, 2.86, 2.89, 2.94,
    3.02, 3.06, 3.05, 3.02, 2.97, 2.92, 2.93, 2.94, 2.96, 2.98,
    3.03, 3.10, 3.13, 3.14, 3.07, 2.98, 2.91, 2.86, 2.90, 2.96,
    2.98, 3.00, 3.05, 3.12, 3.27, 3.26, 3.18, 3.10, 3.02, 2.96,
    2.95, 2.95, 2.98, 3.00, 3.05, 3.10, 3.19, 3.23, 3.18, 3.12,
    3.00, 2.90, 2.88, 2.93, 2.99, 3.06, 3.09, 3.10, 3.11, 3.10,
    3.09, 3.08,
]
obs_20343 = [
    1.90, 1.89, 1.87, 1.87, 1.86, 1.85, 1.88, 1.93, 1.97, 2.02,
    2.09, 2.14, 2.08, 2.03, 1.90, 1.88, 1.97, 1.99, 1.92, 1.90,
    1.97, 2.06, 2.05, 2.04, 2.00, 1.96, 1.92, 1.90, 1.88, 1.85,
    1.86, 1.87, 1.88, 1.87, 1.94, 1.99, 2.02, 2.03, 2.01, 1.99,
    1.97, 1.97, 1.95, 1.94, 1.95, 1.95, 1.89, 1.88, 2.00, 2.08,
    2.11, 2.11, 2.04, 2.00, 2.00, 2.01, 1.98, 1.94, 1.89, 1.88,
    1.96, 2.00, 2.06, 2.06, 1.99, 1.98, 2.02, 2.04, 2.06, 2.06,
    1.97, 1.92, 1.88, 1.85, 1.89, 1.94, 1.98, 2.04, 2.10, 2.12,
    2.24, 2.19, 2.03, 2.07, 2.06, 2.05, 1.97, 1.90, 1.93, 1.98,
    1.99, 2.02, 2.01, 1.96, 1.95, 2.04, 2.07, 2.10, 2.16, 2.20,
    2.23, 2.23, 2.04, 1.96, 1.96, 1.96, 2.00, 2.04, 1.94, 1.93,
    1.98, 1.99, 2.04, 2.16, 2.13, 2.08, 2.02, 1.98, 1.97, 1.96,
    2.02, 2.04, 2.02, 2.02, 2.10, 2.24, 2.22, 2.18, 2.10, 2.04,
    2.06, 2.07, 2.02, 1.98, 1.96, 1.96, 1.90, 1.92, 2.02, 2.06,
    2.09, 2.18, 2.18, 2.14, 2.12, 2.10, 2.16, 2.18, 2.02, 2.02,
    1.99, 1.99, 2.04, 2.14, 2.14, 2.24, 2.12, 2.04, 1.96, 1.96,
    2.02, 2.10, 2.18, 2.32, 2.12, 2.04, 1.99, 1.99, 1.94, 2.06,
    2.09, 2.12, 2.12, 2.09, 2.08, 2.04, 2.03, 2.02, 2.04, 2.20,
    2.17, 2.14, 2.10, 2.08, 2.02, 1.96, 2.08, 2.16, 2.30, 2.33,
    2.40, 2.40, 2.31, 2.16, 2.10, 2.05, 2.06, 2.08, 2.12, 2.15,
    2.12, 2.08, 2.06, 2.04, 2.25, 2.23, 2.20, 2.18, 2.16, 2.15,
    2.12, 2.10, 2.20, 2.20, 2.24, 2.24, 2.12, 2.10, 2.02, 2.02,
    2.10, 2.22, 2.22, 2.20, 2.20, 2.10, 2.02, 2.02, 2.10, 2.16,
    2.20, 2.39, 2.45, 2.51, 2.40, 2.32, 2.10, 2.05, 2.05, 2.04,
    2.08, 2.10, 2.12, 2.12, 2.50, 2.64, 2.45, 2.42, 2.27, 2.16,
    2.08, 2.22, 2.20, 2.18, 2.08, 2.35, 2.40, 2.57, 2.46, 2.46,
    2.29, 2.02, 2.06, 2.14, 2.30, 2.43, 2.37, 2.20, 2.30, 2.46,
    2.37, 2.37,
]
obs_rucyg = [
    1.21, 1.20, 1.18, 1.16, 1.14, 1.13, 1.125, 1.13, 1.14, 1.15,
    1.17, 1.19, 1.21, 1.23, 1.245, 1.25, 1.24, 1.22, 1.20, 1.19,
    1.20, 1.21, 1.22, 1.24, 1.29, 1.33, 1.31, 1.28, 1.22, 1.17,
    1.15, 1.14, 1.14, 1.15, 1.16, 1.18, 1.21, 1.24, 1.27, 1.30,
    1.305, 1.29, 1.27, 1.25, 1.22, 1.19, 1.165, 1.15, 1.17, 1.21,
    1.24, 1.26, 1.26, 1.25, 1.235, 1.22, 1.205, 1.19, 1.18, 1.17,
    1.18, 1.20, 1.22, 1.24, 1.28, 1.31, 1.29, 1.26, 1.23, 1.21,
    1.19, 1.17, 1.15, 1.14, 1.145, 1.16, 1.18, 1.21, 1.26, 1.30,
    1.33, 1.34, 1.32, 1.29, 1.25, 1.22, 1.18, 1.16, 1.17, 1.20,
    1.23, 1.25, 1.27, 1.27, 1.25, 1.24, 1.25, 1.27, 1.31, 1.35,
    1.31, 1.25, 1.22, 1.21, 1.22, 1.24, 1.25, 1.24, 1.22, 1.21,
    1.23, 1.27, 1.31, 1.34, 1.34, 1.31, 1.27, 1.24, 1.21, 1.20,
    1.21, 1.24, 1.27, 1.30, 1.35, 1.39, 1.35, 1.30, 1.28, 1.27,
    1.26, 1.24, 1.23, 1.21, 1.19, 1.16, 1.16, 1.20, 1.26, 1.33,
    1.37, 1.39, 1.38, 1.36, 1.35, 1.34, 1.31, 1.28, 1.25, 1.24,
    1.29, 1.35, 1.38, 1.40, 1.39, 1.36, 1.33, 1.30, 1.29, 1.32,
    1.37, 1.42, 1.47, 1.49, 1.40, 1.31, 1.26, 1.24, 1.30, 1.36,
    1.40, 1.42, 1.39, 1.35, 1.32, 1.31, 1.34, 1.38, 1.40, 1.40,
    1.38, 1.35, 1.32, 1.29, 1.31, 1.38, 1.46, 1.56, 1.60, 1.58,
    1.53, 1.48, 1.43, 1.38, 1.34, 1.32, 1.33, 1.35, 1.37, 1.37,
    1.36, 1.35, 1.38, 1.42, 1.41, 1.39, 1.37, 1.36, 1.39, 1.43,
    1.47, 1.50, 1.52, 1.48, 1.42, 1.37, 1.33, 1.30, 1.34, 1.42,
    1.48, 1.46, 1.43, 1.40, 1.36, 1.33, 1.36, 1.44, 1.54, 1.60,
    1.62, 1.55, 1.48, 1.41, 1.34, 1.29, 1.28, 1.29, 1.32, 1.38,
    1.44, 1.50, 1.56, 1.58, 1.50, 1.42, 1.37, 1.32, 1.30, 1.29,
    1.31, 1.34, 1.40, 1.46, 1.49, 1.47, 1.42, 1.35, 1.29, 1.24,
    1.26, 1.33, 1.38, 1.43, 1.46, 1.49, 1.47, 1.42, 1.36, 1.30,
    1.27, 1.25,
]
obs_svcas = [
    0.37, 0.36, 0.35, 0.34, 0.31, 0.29, 0.28, 0.27, 0.27, 0.28,
    0.29, 0.31, 0.32, 0.34, 0.36, 0.38, 0.375, 0.36, 0.35, 0.35,
    0.345, 0.35, 0.38, 0.41, 0.44, 0.45, 0.43, 0.39, 0.36, 0.33,
    0.32, 0.31, 0.305, 0.31, 0.32, 0.33, 0.34, 0.36, 0.39, 0.42,
    0.43, 0.43, 0.41, 0.38, 0.36, 0.34, 0.33, 0.32, 0.33, 0.36,
    0.39, 0.42, 0.43, 0.42, 0.41, 0.40, 0.385, 0.37, 0.35, 0.34,
    0.355, 0.38, 0.40, 0.42, 0.43, 0.42, 0.40, 0.38, 0.38, 0.38,
    0.39, 0.38, 0.36, 0.34, 0.33, 0.32, 0.33, 0.35, 0.38, 0.41,
    0.45, 0.47, 0.45, 0.43, 0.41, 0.39, 0.36, 0.34, 0.35, 0.37,
    0.39, 0.41, 0.42, 0.43, 0.42, 0.41, 0.42, 0.45, 0.50, 0.54,
    0.49, 0.43, 0.40, 0.38, 0.39, 0.40, 0.41, 0.40, 0.395, 0.39,
    0.41, 0.45, 0.49, 0.52, 0.50, 0.47, 0.44, 0.42, 0.40, 0.38,
    0.40, 0.42, 0.44, 0.47, 0.51, 0.55, 0.52, 0.48, 0.46, 0.45,
    0.44, 0.43, 0.41, 0.39, 0.35, 0.31, 0.31, 0.34, 0.39, 0.45,
    0.50, 0.52, 0.51, 0.49, 0.485, 0.48, 0.45, 0.42, 0.39, 0.375,
    0.43, 0.49, 0.53, 0.55, 0.53, 0.50, 0.44, 0.37, 0.41, 0.47,
    0.53, 0.58, 0.61, 0.58, 0.51, 0.45, 0.43, 0.42, 0.46, 0.51,
    0.53, 0.53, 0.51, 0.49, 0.47, 0.45, 0.46, 0.48, 0.49, 0.48,
    0.47, 0.45, 0.43, 0.42, 0.50, 0.60, 0.66, 0.68, 0.70, 0.66,
    0.61, 0.56, 0.53, 0.50, 0.48, 0.47, 0.48, 0.49, 0.485, 0.48,
    0.475, 0.47, 0.50, 0.53, 0.53, 0.52, 0.51, 0.50, 0.52, 0.55,
    0.58, 0.57, 0.55, 0.52, 0.49, 0.45, 0.44, 0.51, 0.57, 0.62,
    0.60, 0.555, 0.52, 0.49, 0.47, 0.45, 0.52, 0.60, 0.67, 0.72,
    0.73, 0.67, 0.60, 0.54, 0.48, 0.44, 0.43, 0.42, 0.47, 0.55,
    0.60, 0.66, 0.73, 0.66, 0.52, 0.42, 0.39, 0.38, 0.38, 0.39,
    0.41, 0.44, 0.47, 0.51, 0.53, 0.51, 0.48, 0.45, 0.44, 0.43,
    0.435, 0.44, 0.46, 0.49, 0.52, 0.55, 0.54, 0.51, 0.36, 0.27,
    0.33, 0.39,
]


def long_frame(series):
    """Stack one spectrum per star into a long table"""
    parts = []
    for star, flux in zip(stars, series):
        assert len(flux) == len(wave), (star, len(flux))
        parts.append(pd.DataFrame({"wave": wave, "flux": flux, "star": star}))
    return pd.concat(parts, ignore_index=True)


obs_df = long_frame([obs_19129, obs_19361, obs_20343, obs_rucyg, obs_svcas])
blue_df = long_frame([blue_19129, blue_19361, blue_20343, blue_rucyg, blue_svcas])
red_df = long_frame([red_19129, red_19361, red_20343, red_rucyg, red_svcas])

fig, ax = plt.subplots(figsize=(12.8, 9.02), dpi=100)

# observed points first, models on top
sns.scatterplot(data=obs_df, x="wave", y="flux", color="black", s=45,
                edgecolor="none", legend=False, ax=ax, zorder=2)
sns.lineplot(data=blue_df, x="wave", y="flux", units="star", estimator=None,
             sort=False, color="blue", lw=2.0, legend=False, ax=ax, zorder=3)
sns.lineplot(data=red_df, x="wave", y="flux", units="star", estimator=None,
             sort=False, color="red", lw=2.4, legend=False, ax=ax, zorder=4)

ax.axvline(line_center, color="black", lw=1.6, zorder=5)

for name, y in zip(stars, label_y):
    ax.text(6452.18, y, name, fontsize=20, color="black")

ax.set_xlim(6449.18, 6476.14)
ax.set_ylim(0, 4.3)
ax.xaxis.set_major_locator(MultipleLocator(5))
ax.xaxis.set_minor_locator(AutoMinorLocator(5))
ax.yaxis.set_major_locator(MultipleLocator(0.5))
ax.yaxis.set_minor_locator(AutoMinorLocator(5))
ax.ticklabel_format(axis="x", useOffset=False)
ax.tick_params(axis="both", which="major", labelsize=20)
ax.tick_params(top=False, right=False)

ax.set_xlabel(r"Wavelength ($\AA$)", fontsize=25)
ax.set_ylabel("Relative Flux", fontsize=25)

fig.savefig("out.png", dpi=100)
plt.close(fig)
